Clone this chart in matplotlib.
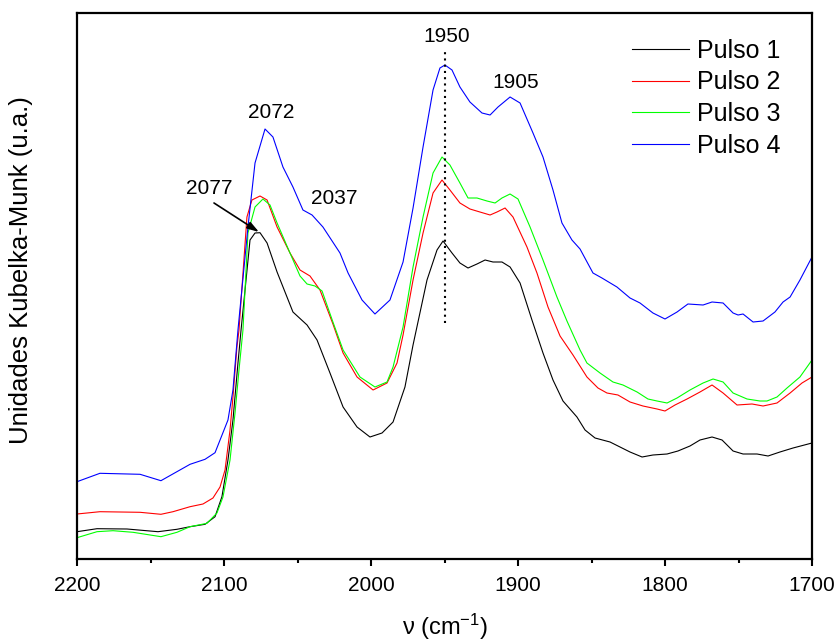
import numpy as np
import matplotlib
matplotlib.use("Agg")
import matplotlib.pyplot as plt
from matplotlib.ticker import MultipleLocator

plt.rcParams['font.family'] = ['Liberation Sans', 'DejaVu Sans']
plt.rcParams['mathtext.default'] = 'regular'

# DRIFTS spectra, Kubelka-Munk units (arbitrary scale)
nu_p1 = [2200, 2186.4, 2166.0, 2144.9, 2132.0, 2123.1, 2112.9, 2106.1, 2101.4, 2097.3,
         2093.9, 2090.5, 2088.4, 2082.3, 2078.9, 2075.5, 2070.7, 2063.9, 2053.1, 2043.5,
         2036.7, 2027.9, 2019.0, 2009.5, 2000.7, 1992.5, 1985.0, 1976.9, 1971.4, 1961.9,
         1955.1, 1951.0, 1944.9, 1939.5, 1934.0, 1927.9, 1922.4, 1917.0, 1910.9, 1905.4,
         1898.6, 1890.5, 1883.0, 1876.2, 1869.4, 1859.9, 1854.4, 1847.6, 1837.4, 1830.6,
         1823.8, 1815.6, 1808.2, 1798.6, 1791.2, 1783.0, 1776.2, 1768.0, 1761.2, 1753.7,
         1746.9, 1737.4, 1729.9, 1721.8, 1712.9, 1700]
km_p1 = [27.3, 30.3, 30.0, 27.3, 29.7, 32.3, 34.7, 42.3, 62.3, 99,
         139, 196, 229, 319, 326, 326.3, 316, 287, 247, 234,
         219, 186, 152, 132, 122, 126, 137, 172, 214, 279,
         309, 318, 306, 296, 291, 295, 299, 297, 297, 292,
         276, 239, 206, 179, 158, 142, 129, 121, 117, 112,
         107, 102, 104, 105, 108, 113, 119, 122, 119, 108,
         105, 105, 103, 107, 111, 116]

nu_p2 = [2200, 2184.4, 2157.1, 2142.9, 2134.7, 2123.1, 2114.3, 2107.5, 2102.7, 2099.3,
         2095.9, 2093.9, 2091.2, 2089.8, 2084.4, 2081.0, 2075.5, 2070.7, 2063.9, 2055.1,
         2048.3, 2041.5, 2034.7, 2025.9, 2019.0, 2009.5, 1998.6, 1989.1, 1982.3, 1978.2,
         1971.4, 1964.6, 1957.8, 1951.7, 1946.3, 1939.5, 1932.7, 1925.9, 1919.0, 1914.3,
         1908.8, 1903.4, 1893.9, 1887.1, 1879.6, 1871.4, 1862.6, 1853.1, 1845.6, 1839.5,
         1832.0, 1823.8, 1815.0, 1805.4, 1800.0, 1793.2, 1785.0, 1776.2, 1768.0, 1760.5,
         1751.0, 1740.8, 1733.3, 1723.8, 1714.9, 1706.8, 1700]
km_p2 = [45, 47.3, 46.7, 44.7, 47.3, 52.3, 55, 61, 72, 89,
         129, 162, 212, 229, 342, 359, 363, 359, 332, 306,
         289, 283, 269, 235, 206, 182, 169, 176, 196, 224,
         279, 326, 366, 379, 369, 356, 350, 347, 344, 347,
         351, 342, 312, 286, 252, 223, 204, 182, 171, 166,
         164, 157, 153, 150, 148, 154, 160, 167, 174, 166,
         154, 155, 153, 156, 166, 176, 182]

nu_p3 = [2200, 2186.4, 2175.5, 2161.9, 2142.9, 2132.0, 2123.1, 2111.6, 2104.8, 2100.7,
         2095.9, 2092.5, 2089.8, 2087.1, 2083.7, 2078.9, 2073.5, 2068.7, 2063.9, 2055.1,
         2048.3, 2043.5, 2038.1, 2033.3, 2025.9, 2019.0, 2007.5, 1997.3, 1989.1, 1985.0,
         1978.2, 1971.4, 1964.6, 1957.8, 1951.7, 1946.3, 1939.5, 1934.0, 1927.9, 1921.1,
         1915.6, 1910.9, 1905.4, 1900.0, 1891.8, 1883.0, 1873.5, 1866.7, 1857.8, 1853.1,
         1844.2, 1835.4, 1828.6, 1819.0, 1811.6, 1805.4, 1798.6, 1791.8, 1783.0, 1774.1,
         1767.3, 1760.5, 1753.7, 1744.2, 1735.4, 1730.6, 1723.8, 1717.0, 1708.2, 1700]
km_p3 = [21.3, 27.3, 28.3, 26.7, 22.3, 26.7, 32.3, 35.7, 46, 62,
         99, 146, 189, 229, 326, 352, 360, 354, 336, 306,
         283, 275, 273, 268, 237, 209, 182, 172, 177, 192,
         232, 292, 342, 386, 402, 394, 376, 361, 361, 358,
         356, 361, 365, 360, 332, 299, 262, 238, 209, 196,
         186, 177, 174, 167, 160, 158, 156, 161, 169, 176,
         180, 177, 166, 160, 158, 158, 162, 171, 182, 199]

nu_p4 = [2200, 2184.4, 2157.1, 2142.9, 2123.1, 2112.9, 2106.1, 2097.3, 2093.9, 2090.5,
         2083.7, 2078.9, 2072.1, 2066.7, 2059.9, 2053.1, 2046.3, 2040.1, 2032.7, 2021.1,
         2015.6, 2006.1, 1997.3, 1987.1, 1978.2, 1971.4, 1964.6, 1957.8, 1953.1, 1949.7,
         1944.9, 1939.5, 1932.7, 1924.5, 1919.0, 1913.6, 1905.4, 1898.6, 1889.8, 1883.0,
         1876.2, 1870.1, 1863.3, 1857.8, 1849.0, 1842.9, 1832.7, 1823.8, 1817.0, 1808.2,
         1800.0, 1791.8, 1784.4, 1774.1, 1768.0, 1760.5, 1753.7, 1750.3, 1746.9, 1740.1,
         1733.3, 1725.2, 1719.7, 1714.9, 1708.2, 1700]
km_p4 = [77.3, 85.7, 84.7, 78.3, 94.7, 99.7, 106.3, 139, 169, 229,
         332, 396, 430, 422, 392, 372, 349, 344, 332, 306,
         286, 259, 245, 259, 297, 351, 412, 469, 491, 494,
         489, 472, 457, 446, 444, 452, 462, 456, 426, 402,
         369, 336, 319, 310, 286, 281, 272, 261, 256, 246,
         240, 247, 255, 254, 257, 256, 246, 244, 245, 237,
         238, 247, 257, 262, 279, 302]

labels = ['Pulso 1', 'Pulso 2', 'Pulso 3', 'Pulso 4']
colors = ['black', '#ff0000', '#00ff00', '#0000ff']

fig = plt.figure(figsize=(8.39, 6.44), dpi=100)
ax = fig.add_axes([77/839, 1 - 559/644, 735/839, 546/644])

series = [(nu_p1, km_p1), (nu_p2, km_p2), (nu_p3, km_p3), (nu_p4, km_p4)]
for (x, y), lab, c in zip(series, labels, colors):
    ax.plot(x, y, color=c, lw=0.8, label=lab)

# dotted marker line at 1950
ax.plot([1950, 1950], [236, 511], color='black', lw=1.5, linestyle=(0, (1, 2)))

# peak labels
ax.text(2068.0, 447, '2072', fontsize=15, ha='center', va='center')
ax.text(2025.2, 360, '2037', fontsize=15, ha='center', va='center')
ax.text(2110.2, 370, '2077', fontsize=15, ha='center', va='center')
ax.text(1948.3, 522, '1950', fontsize=15, ha='center', va='center')
ax.text(1901.4, 477, '1905', fontsize=15, ha='center', va='center')
ax.annotate('', xy=(2076.2, 327), xytext=(2106.8, 356),
            arrowprops=dict(arrowstyle='-|>,head_length=0.7,head_width=0.22',
                            color='black', lw=1.2, shrinkA=0, shrinkB=0))

ax.set_xlim(2200, 1700)
ax.set_ylim(0, 546)
ax.set_yticks([])
ax.xaxis.set_major_locator(MultipleLocator(100))
ax.xaxis.set_minor_locator(MultipleLocator(50))
ax.tick_params(axis='x', which='major', direction='out', length=5, width=1.5,
               labelsize=15, pad=7)
ax.tick_params(axis='x', which='minor', direction='out', length=3, width=1.5)
for s in ax.spines.values():
    s.set_linewidth(1.6)

ax.set_xlabel('ν (cm$^{-1}$)', fontsize=17)
ax.xaxis.set_label_coords(0.5, -0.097)
ax.set_ylabel('Unidades Kubelka-Munk (u.a.)', fontsize=18.5)
ax.yaxis.set_label_coords(-0.06, 0.53)

ax.legend(loc='upper left', bbox_to_anchor=(0.755, 0.953), frameon=False,
          fontsize=18, handlelength=2.3, handletextpad=0.3, labelspacing=0.31,
          borderpad=0, borderaxespad=0)

fig.savefig('out.png', dpi=100)
